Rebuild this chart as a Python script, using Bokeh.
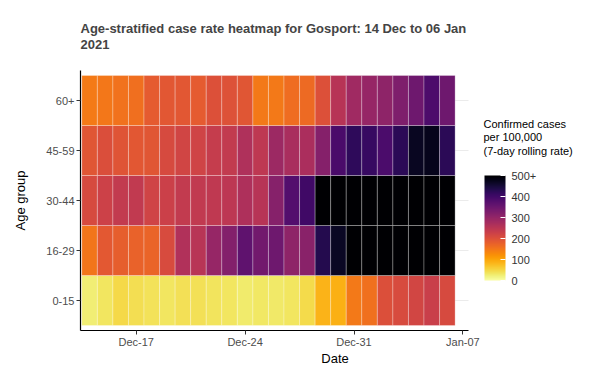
import pandas as pd
from bokeh.plotting import figure
from bokeh.models import (ColumnDataSource, LinearColorMapper, ColorBar, FixedTicker,
                          FactorRange, Range1d, Title, Label)
from bokeh.palettes import Inferno256
from bokeh.embed import file_html
from bokeh.resources import INLINE

# ---- data ----
dates = pd.date_range("2020-12-14", "2021-01-06", freq="D")
age_groups = ["0-15", "16-29", "30-44", "45-59", "60+"]

rate_0_15 = [25, 35, 48, 42, 38, 34, 40, 40, 37, 35, 29, 33, 31, 35, 46,
             85, 88, 148, 158, 202, 208, 218, 230, 210]
rate_16_29 = [152, 188, 180, 175, 172, 208, 262, 253, 295, 320, 365, 340, 345, 305, 312,
              432, 468, 520, 580, 620, 650, 690, 700, 710]
rate_30_44 = [210, 225, 240, 242, 222, 228, 240, 242, 243, 248, 266, 255, 315, 378, 402,
              560, 610, 640, 660, 690, 700, 720, 710, 730]
rate_45_59 = [192, 205, 195, 190, 192, 210, 220, 222, 235, 240, 265, 245, 288, 272, 270,
              318, 390, 420, 412, 387, 425, 470, 475, 424]
rate_60_plus = [146, 150, 156, 160, 185, 190, 190, 185, 200, 198, 192, 148, 147, 162, 165,
                200, 255, 285, 295, 305, 325, 345, 385, 345]

x_tick_dates = ["2020-12-17", "2020-12-24", "2020-12-31", "2021-01-07"]
x_tick_labels = ["Dec-17", "Dec-24", "Dec-31", "Jan-07"]
legend_ticks = [0, 100, 200, 300, 400, 500]
legend_labels = ["0", "100", "200", "300", "400", "500+"]
legend_title = "Confirmed cases\n per 100,000\n (7-day rolling rate)"
chart_title = "Age-stratified case rate heatmap for Gosport: 14 Dec to 06 Jan\n2021"

rates = {"0-15": rate_0_15, "16-29": rate_16_29, "30-44": rate_30_44,
         "45-59": rate_45_59, "60+": rate_60_plus}

xs, ys, vs = [], [], []
for g in age_groups:
    for d, v in zip(dates, rates[g]):
        xs.append(d)
        ys.append(g)
        vs.append(v)
source = ColumnDataSource(dict(date=xs, group=ys, rate=vs))

FONT = "Liberation Sans"
DAY_MS = 24 * 3600 * 1000
W, H = 589, 372
B_LEFT, B_TOP, B_BOTTOM = 80, 70, 42
PANEL_RIGHT = 468            # right end of the visible plotting panel (px)
x_start = pd.Timestamp("2020-12-13 10:00")
x_panel_end = pd.Timestamp("2021-01-07 08:40")
# the frame is widened to the figure edge so the legend title can live inside it
x_end = x_start + (x_panel_end - x_start) * ((W - B_LEFT) / (PANEL_RIGHT - B_LEFT))

def ms(t):
    return pd.Timestamp(t).value / 1e6

p = figure(width=W, height=H, output_backend="svg", toolbar_location=None,
           x_axis_type="datetime",
           x_range=Range1d(start=x_start, end=x_end),
           y_range=FactorRange(factors=age_groups, range_padding=0.1,
                               range_padding_units="absolute"),
           min_border_left=B_LEFT, min_border_right=0,
           min_border_top=B_TOP, min_border_bottom=B_BOTTOM)
p.outline_line_color = None
p.background_fill_color = "white"

mapper = LinearColorMapper(palette=list(reversed(Inferno256)), low=0, high=500,
                           high_color=Inferno256[0])

# faint horizontal grid lines across the panel only
grid = p.segment(x0=[x_start] * len(age_groups), x1=[x_panel_end] * len(age_groups),
                 y0=age_groups, y1=age_groups, line_color="#EBEBEB", line_width=1)
grid.level = "underlay"

p.rect(x="date", y="group", width=DAY_MS, height=1, source=source,
       fill_color={"field": "rate", "transform": mapper},
       line_color="white", line_alpha=0.35, line_width=0.8)

# axes
tick_ms = [ms(t) for t in x_tick_dates]
p.xaxis.ticker = FixedTicker(ticks=tick_ms)
p.xaxis.major_label_overrides = {t: l for t, l in zip(tick_ms, x_tick_labels)}
p.xaxis.bounds = (ms(x_start), ms(x_panel_end))
p.xaxis.axis_label = "Date"
p.yaxis.axis_label = "Age group"
for ax in (p.xaxis, p.yaxis):
    ax.axis_line_color = "black"
    ax.axis_line_width = 1.2
    ax.major_tick_line_color = "#333333"
    ax.major_tick_out = 4
    ax.major_tick_in = 0
    ax.minor_tick_line_color = None
    ax.major_label_text_font = FONT
    ax.major_label_text_font_size = "11px"
    ax.major_label_text_color = "#4D4D4D"
    ax.axis_label_text_font = FONT
    ax.axis_label_text_font_size = "13px"
    ax.axis_label_text_font_style = "normal"
    ax.axis_label_text_color = "black"
p.xaxis.major_label_standoff = 1
p.xaxis.axis_label_standoff = 0
p.yaxis.major_label_standoff = 2
p.yaxis.axis_label_standoff = 15

p.xgrid.grid_line_color = None
p.ygrid.grid_line_color = None

# colour bar
cb = ColorBar(color_mapper=mapper, ticker=FixedTicker(ticks=legend_ticks),
              major_label_overrides={t: l for t, l in zip(legend_ticks, legend_labels)},
              width=21, height=105, title=None,
              major_label_text_font=FONT, major_label_text_font_size="11px",
              major_label_text_color="#333333", label_standoff=6,
              major_tick_line_color="white", major_tick_in=5, major_tick_out=0,
              minor_tick_line_color=None, bar_line_color=None, border_line_color=None,
              background_fill_color=None, padding=0, location=(484 - B_LEFT, 50))
p.add_layout(cb, "center")

# legend title (screen units are measured from the frame's lower-left corner)
p.add_layout(Label(x=483 - B_LEFT, y=(H - B_BOTTOM) - 117, x_units="screen", y_units="screen",
                   text=legend_title,
                   text_font=FONT, text_font_size="11px", text_color="black",
                   text_align="left", text_baseline="top", text_line_height=1.15))

# title (two lines)
p.add_layout(Title(text=chart_title, text_font=FONT, text_font_size="13px",
                   text_font_style="bold", align="left", text_line_height=1.05,
                   standoff=37), "above")

open("out.html", "w").write(file_html(p, INLINE))
